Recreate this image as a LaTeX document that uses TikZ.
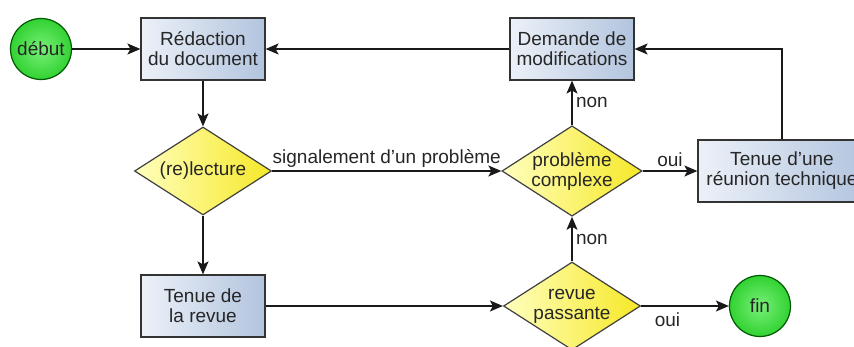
\documentclass[tikz,border=0pt]{standalone}
\usepackage{fontspec}
\setmainfont{Liberation Sans}
\usetikzlibrary{shapes.geometric,arrows.meta}

\definecolor{boitegauche}{RGB}{236,241,248}
\definecolor{boitedroite}{RGB}{178,196,222}
\definecolor{losangegauche}{RGB}{255,255,190}
\definecolor{losangedroite}{RGB}{246,232,40}
\definecolor{vertclair}{RGB}{120,240,120}
\definecolor{vertfonce}{RGB}{50,210,50}

\begin{document}
\begin{tikzpicture}[x=1pt,y=-1pt,
  every node/.style={font=\fontsize{19}{20}\selectfont,text=black!85},
  tache/.style={draw=black!80,line width=1.2pt,left color=boitegauche,right color=boitedroite,
    minimum width=124pt,minimum height=62pt,inner sep=0pt,align=center},
  test/.style={diamond,draw=black!75,line width=1.2pt,left color=losangegauche,right color=losangedroite,
    minimum width=137pt,minimum height=88pt,aspect=1.55,inner sep=0pt,align=center},
  borne/.style={circle,draw=green!35!black,line width=1.2pt,inner color=vertclair,outer color=vertfonce,
    minimum size=61pt,inner sep=0pt},
  fleche/.style={line width=1.4pt,black!90,-{Stealth[length=13pt,width=11pt,inset=3pt]}}]
  \useasboundingbox (0,0) rectangle (854,347);

  \node[borne] (debut) at (41,49) {début};
  \node[tache] (redaction) at (203,49) {Rédaction\\du document};
  \node[tache] (demande) at (572,49) {Demande de\\modifications};
  \node[test] (relecture) at (203,171) {(re)lecture};
  \node[test] (probleme) at (572,171) {problème\\complexe};
  \node[tache,minimum width=168pt] (reunion) at (782,171) {Tenue d{\char39}une\\réunion technique};
  \node[tache] (revue) at (203,306) {Tenue de\\la revue};
  \node[test] (passante) at (572,306) {revue\\passante};
  \node[borne] (fin) at (760,306) {fin};

  \draw[fleche] (debut) -- (redaction);
  \draw[fleche] (redaction) -- (relecture);
  \draw[fleche] (relecture) -- (revue);
  \draw[fleche] (relecture) -- (probleme) node[midway,above] {signalement d{\char39}un problème};
  \draw[fleche] (revue) -- (passante);
  \draw[fleche] (passante) -- (fin) node[pos=0.3,below=3pt] {oui};
  \draw[fleche] (passante) -- (probleme) node[midway,right] {non};
  \draw[fleche] (probleme) -- (reunion) node[midway,above] {oui};
  \draw[fleche] (probleme) -- (demande) node[midway,right] {non};
  \draw[fleche] (reunion.north) |- (demande.east);
  \draw[fleche] (demande) -- (redaction);
\end{tikzpicture}
\end{document}
